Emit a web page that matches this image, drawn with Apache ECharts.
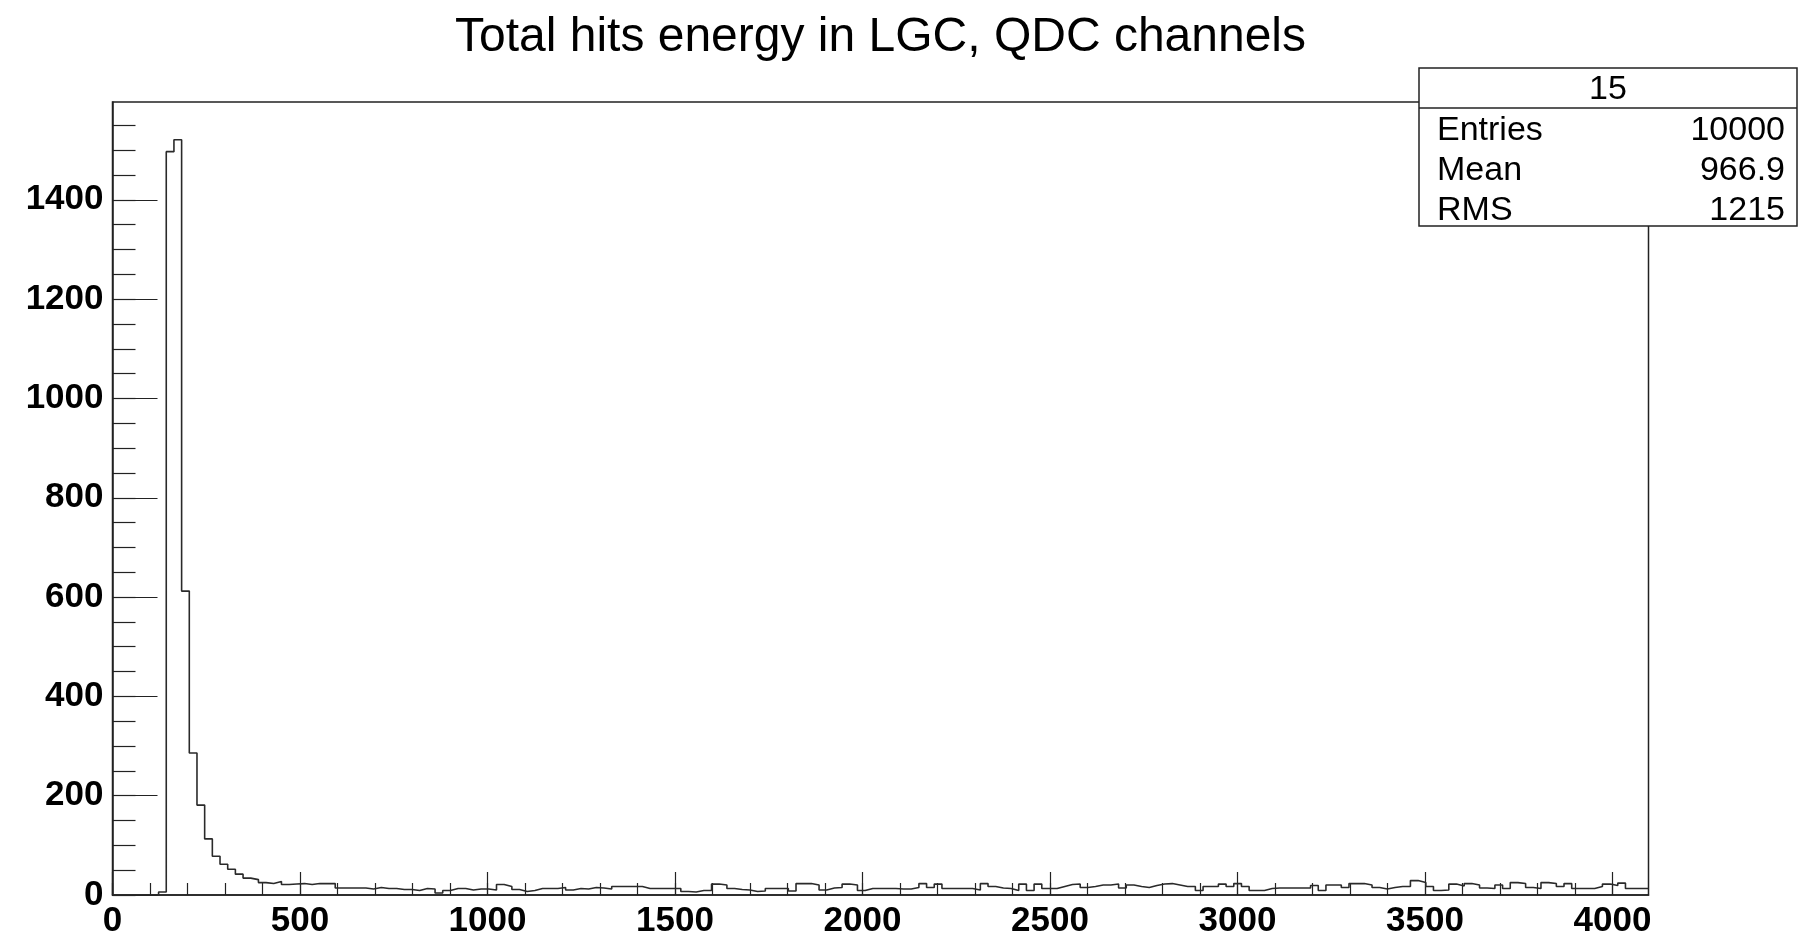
<!DOCTYPE html>
<html>
<head>
<meta charset="utf-8">
<title>Total hits energy in LGC, QDC channels</title>
<script src="https://cdn.jsdelivr.net/npm/echarts@6/dist/echarts.min.js"></script>
<style>
  html, body { margin: 0; padding: 0; background: #ffffff; }
  #chart { width: 1799px; height: 940px; }
</style>
</head>
<body>
<div id="chart"></div>
<script>
// Histogram: 200 bins over 0..4096 QDC channels (counts per bin)
const histName = '15';
const titleText = 'Total hits energy in LGC, QDC channels';
const xRange = [0, 4096];
const nBins = 200;
const binCounts = [
  0, 0, 0, 0, 0, 0, 6, 1497, 1521, 612,
  286, 181, 113, 78, 62, 52, 42, 34, 31, 25,
  23, 27, 21, 22, 23, 21, 23, 23, 23, 14,
  14, 14, 14, 12, 15, 13, 13, 11, 11, 9,
  13, 12, 4, 9, 13, 13, 10, 12, 12, 10,
  21, 17, 11, 7, 9, 13, 13, 13, 15, 10,
  13, 12, 15, 14, 12, 17, 17, 17, 17, 13,
  13, 13, 13, 13, 7, 6, 9, 9, 22, 20,
  13, 11, 10, 7, 8, 13, 13, 13, 8, 23,
  23, 20, 10, 14, 15, 22, 20, 9, 13, 13,
  13, 13, 12, 12, 15, 23, 15, 22, 13, 13,
  13, 13, 10, 23, 17, 14, 13, 9, 22, 9,
  22, 13, 13, 17, 21, 22, 15, 17, 20, 20,
  22, 14, 20, 17, 15, 19, 22, 23, 20, 17,
  17, 9, 17, 17, 22, 17, 23, 17, 9, 9,
  13, 14, 14, 14, 14, 14, 19, 9, 20, 20,
  15, 23, 23, 20, 15, 12, 15, 17, 17, 29,
  25, 17, 9, 10, 22, 18, 23, 20, 14, 13,
  20, 13, 25, 23, 15, 13, 25, 23, 17, 23,
  13, 13, 13, 17, 22, 19, 24, 13, 13, 13
];
const yMax = 1597;

// Axis tick values
const xMajorTicks = [0, 500, 1000, 1500, 2000, 2500, 3000, 3500, 4000];
const xMinorStep = 100;
const yMajorTicks = [0, 200, 400, 600, 800, 1000, 1200, 1400];
const yMinorStep = 50;

// Statistics box rows
const statLabels = ['Entries', 'Mean', 'RMS'];
const statValues = ['10000', '966.9', '1215'];

// Minor tick positions from the step sizes
const xMinorTicks = [];
for (let v = 0; v <= xRange[1]; v += xMinorStep) xMinorTicks.push(v);
const yMinorTicks = [];
for (let v = 0; v <= yMax; v += yMinorStep) yMinorTicks.push(v);

// Step outline: each bin contributes its low-edge and high-edge corner at its count
const binWidth = (xRange[1] - xRange[0]) / nBins;
const stepData = [];
binCounts.forEach((c, i) => {
  const lo = xRange[0] + i * binWidth;
  stepData.push([lo, c], [lo + binWidth, c]);
});

const FONT = '"Liberation Sans", Arial, Helvetica, sans-serif';
const INK = '#000000';
const plainNumber = v => String(v);

// Plot frame in pixels
const grid = { left: 112.5, right: 150.5, top: 102, bottom: 45 };
const frameCenterX = grid.left + (1799 - grid.left - grid.right) / 2;

// Statistics box geometry
const box = { x: 1419, y: 68, w: 378, h: 158, headerH: 40 };
const rowY = [130.5, 170.5, 210.5];

const chart = echarts.init(document.getElementById('chart'), null, { renderer: 'canvas' });

const statText = [];
statLabels.forEach((lab, i) => {
  statText.push({
    type: 'text', x: box.x + 18, y: rowY[i], z: 101,
    style: { text: lab, fontSize: 34, fontFamily: FONT, fill: INK, align: 'left', verticalAlign: 'middle' }
  });
  statText.push({
    type: 'text', x: box.x + box.w - 12, y: rowY[i], z: 101,
    style: { text: statValues[i], fontSize: 34, fontFamily: FONT, fill: INK, align: 'right', verticalAlign: 'middle' }
  });
});

chart.setOption({
  animation: false,
  backgroundColor: '#ffffff',
  grid: {
    left: grid.left, right: grid.right, top: grid.top, bottom: grid.bottom,
    show: true, borderColor: '#222', borderWidth: 1.5, backgroundColor: '#ffffff'
  },
  xAxis: [
    {
      type: 'value', min: xRange[0], max: xRange[1],
      axisLine: { show: true, lineStyle: { color: '#222', width: 1.5 } },
      axisTick: { show: true, inside: true, length: 23, customValues: xMajorTicks, lineStyle: { color: '#222', width: 1.2 } },
      axisLabel: { customValues: xMajorTicks, formatter: plainNumber, fontSize: 35, fontWeight: 'bold', fontFamily: FONT, color: INK, margin: 9 },
      splitLine: { show: false }
    },
    {
      type: 'value', min: xRange[0], max: xRange[1], position: 'bottom',
      axisLine: { show: false },
      axisTick: { show: true, inside: true, length: 12, customValues: xMinorTicks, lineStyle: { color: '#222', width: 1.2 } },
      axisLabel: { show: false },
      splitLine: { show: false }
    }
  ],
  yAxis: [
    {
      type: 'value', min: 0, max: yMax,
      axisLine: { show: true, lineStyle: { color: '#222', width: 1.5 } },
      axisTick: { show: true, inside: true, length: 45, customValues: yMajorTicks, lineStyle: { color: '#222', width: 1.2 } },
      axisLabel: { customValues: yMajorTicks, formatter: plainNumber, fontSize: 35, fontWeight: 'bold', fontFamily: FONT, color: INK, margin: 9 },
      splitLine: { show: false }
    },
    {
      type: 'value', min: 0, max: yMax, position: 'left',
      axisLine: { show: false },
      axisTick: { show: true, inside: true, length: 23, customValues: yMinorTicks, lineStyle: { color: '#222', width: 1.2 } },
      axisLabel: { show: false },
      splitLine: { show: false }
    }
  ],
  series: [
    {
      name: histName,
      type: 'line',
      xAxisIndex: 0,
      yAxisIndex: 0,
      data: stepData,
      showSymbol: false,
      symbol: 'none',
      lineStyle: { color: '#2a2a2a', width: 1.6 },
      silent: true,
      z: 5
    }
  ],
  graphic: [
    {
      type: 'text', x: frameCenterX, y: 38, z: 100,
      style: { text: titleText, fontSize: 48, fontFamily: FONT, fill: INK, align: 'center', verticalAlign: 'middle' }
    },
    {
      type: 'rect', z: 100,
      shape: { x: box.x, y: box.y, width: box.w, height: box.h },
      style: { fill: '#ffffff', stroke: '#222', lineWidth: 1.5 }
    },
    {
      type: 'line', z: 101,
      shape: { x1: box.x, y1: box.y + box.headerH, x2: box.x + box.w, y2: box.y + box.headerH },
      style: { stroke: '#222', lineWidth: 1.5 }
    },
    {
      type: 'text', x: box.x + box.w / 2, y: box.y + box.headerH / 2 + 2, z: 101,
      style: { text: histName, fontSize: 34, fontFamily: FONT, fill: INK, align: 'center', verticalAlign: 'middle' }
    }
  ].concat(statText)
});
</script>
</body>
</html>
